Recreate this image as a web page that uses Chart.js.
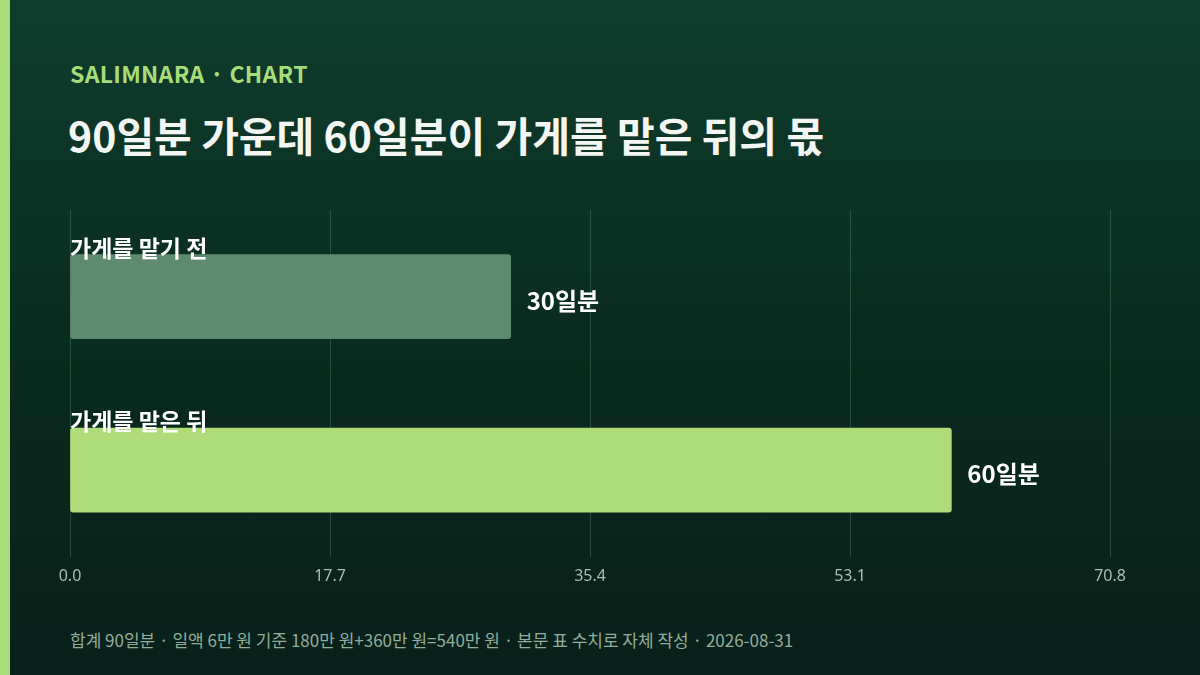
<!DOCTYPE html>
<html><head><meta charset="utf-8">
<script src="https://cdn.jsdelivr.net/npm/chart.js@4"></script>
<style>
html,body{margin:0;padding:0;width:1200px;height:675px;overflow:hidden;font-family:"Noto Sans CJK KR","Noto Sans",sans-serif}
body{background:linear-gradient(180deg,#0f3d2d 0%,#0a2a1e 55%,#08201a 100%);position:relative}
#accent{position:absolute;left:0;top:0;width:10px;height:675px;background:#a8dc78}
#kicker{position:absolute;left:70px;top:56px;font-size:23px;font-weight:700;color:#a8dc78;letter-spacing:0.3px}
#title{position:absolute;left:68px;top:104px;font-size:41px;font-weight:700;color:#f3f6f2}
#foot{position:absolute;left:70px;top:627px;font-size:17px;color:#93ad9c}
#wrap{position:absolute;left:0;top:0;width:1200px;height:675px}
</style></head><body>
<div id="accent"></div>
<div id="kicker">SALIMNARA · CHART</div>
<div id="title">90일분 가운데 60일분이 가게를 맡은 뒤의 몫</div>
<div id="foot">합계 90일분 · 일액 6만 원 기준 180만 원+360만 원=540만 원 · 본문 표 수치로 자체 작성 · 2026-08-31</div>
<div id="wrap"><canvas id="c"></canvas></div>
<script>
const categories = ["가게를 맡기 전", "가게를 맡은 뒤"];
const values = [30, 60];
const valueLabels = ["30일분", "60일분"];
const tickValues = [0, 17.7, 35.4, 53.1, 70.8];
const barColors = ["#5e8b70", "#addc78"];

const labelPlugin = {
  id: "labels",
  afterDatasetsDraw(chart) {
    const ctx = chart.ctx;
    const meta = chart.getDatasetMeta(0);
    ctx.save();
    meta.data.forEach((bar, i) => {
      ctx.fillStyle = "#ffffff";
      ctx.font = "700 24px 'Noto Sans CJK KR'";
      ctx.textBaseline = "middle";
      ctx.textAlign = "left";
      ctx.fillText(valueLabels[i], bar.x + 16, bar.y + 4);
      ctx.font = "700 23px 'Noto Sans CJK KR'";
      ctx.textBaseline = "alphabetic";
      ctx.fillText(categories[i], chart.chartArea.left, bar.y - bar.height / 2 + 2);
    });
    ctx.restore();
  }
};

new Chart(document.getElementById("c"), {
  type: "bar",
  data: { labels: categories, datasets: [{ data: values, backgroundColor: barColors, borderRadius: 3, borderSkipped: false, barThickness: 84 }] },
  options: {
    indexAxis: "y", responsive: true, maintainAspectRatio: false, animation: false,
    layout: { padding: { left: 70, right: 90, top: 210, bottom: 79 } },
    plugins: { legend: { display: false }, tooltip: { enabled: false } },
    scales: {
      x: {
        min: 0, max: 70.8,
        afterBuildTicks(s) { s.ticks = tickValues.map(v => ({ value: v })); },
        ticks: { color: "#a9bdb0", font: { size: 16, family: "Noto Sans" }, padding: 10, callback: v => Number(v).toFixed(1) },
        grid: { color: "rgba(120,190,150,0.25)", drawTicks: false, lineWidth: 1 },
        border: { display: false }
      },
      y: { display: false }
    }
  },
  plugins: [labelPlugin]
});
</script>
</body></html>
